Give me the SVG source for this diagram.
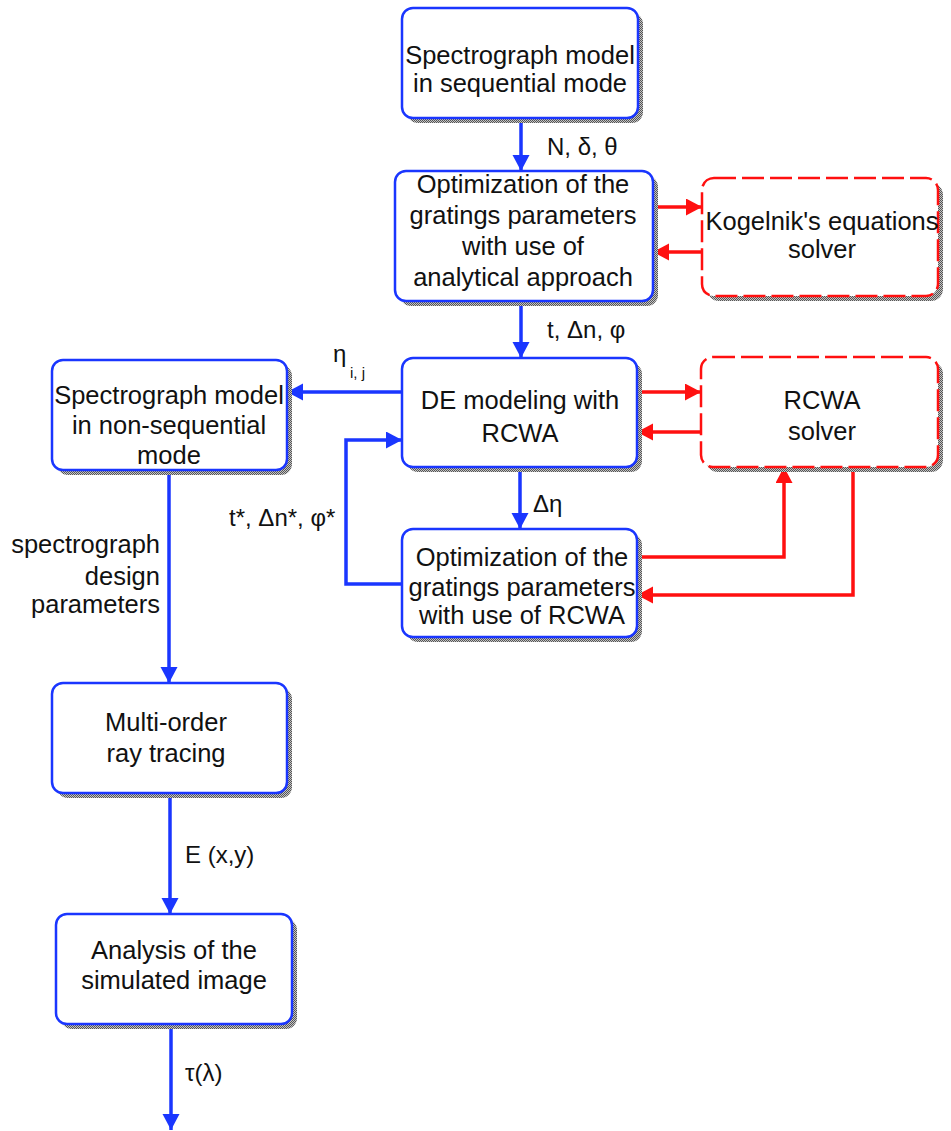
<svg xmlns="http://www.w3.org/2000/svg" width="951" height="1131" viewBox="0 0 951 1131">
<style>
  .box{fill:#fff;stroke:#1a36ff;stroke-width:2.5}
  .rbox{fill:#fff;stroke:#ff1010;stroke-width:2.5;stroke-dasharray:22 6}
  .sh{fill:url(#dots);stroke:none}
  .t{font-family:"Liberation Sans",Arial,sans-serif;font-size:25.5px;fill:#111;text-anchor:middle}
  .lab{font-family:"Liberation Sans",Arial,sans-serif;font-size:24px;fill:#111}
  .sub{font-family:"Liberation Sans",Arial,sans-serif;font-size:15px;fill:#111}
  .cb{fill:none;stroke:#1a36ff;stroke-width:3.5;marker-end:url(#ab)}
  .cr{fill:none;stroke:#ff1010;stroke-width:3.5;marker-end:url(#ar)}
</style>
<defs>
  <pattern id="dots" width="2" height="2" patternUnits="userSpaceOnUse">
    <rect width="2" height="2" fill="#c4c4c4"/>
    <rect width="1" height="1" fill="#555"/>
    <rect x="1" y="1" width="1" height="1" fill="#555"/>
  </pattern>
  <marker id="ab" markerUnits="userSpaceOnUse" markerWidth="18" markerHeight="18" refX="16" refY="8.5" orient="auto">
    <path d="M0,0 L16,8.5 L0,17 z" fill="#1a36ff"/>
  </marker>
  <marker id="ar" markerUnits="userSpaceOnUse" markerWidth="18" markerHeight="18" refX="16" refY="8.5" orient="auto">
    <path d="M0,0 L16,8.5 L0,17 z" fill="#ff1010"/>
  </marker>
</defs>
<rect width="951" height="1131" fill="#fff"/>

<g id="connectors">
  <line class="cb" x1="521" y1="118" x2="521" y2="171"/>
  <line class="cb" x1="521" y1="301" x2="521" y2="358"/>
  <line class="cb" x1="520" y1="467" x2="520" y2="529"/>
  <line class="cb" x1="402" y1="392" x2="287" y2="392"/>
  <path class="cb" d="M402,584 H346 V440 H402"/>
  <line class="cb" x1="169" y1="470" x2="169" y2="683"/>
  <line class="cb" x1="170" y1="793" x2="170" y2="914"/>
  <line class="cb" x1="171" y1="1024" x2="171" y2="1130"/>
  <line class="cr" x1="653" y1="207" x2="702" y2="207"/>
  <line class="cr" x1="702" y1="252" x2="653" y2="252"/>
  <line class="cr" x1="637" y1="392" x2="701" y2="392"/>
  <line class="cr" x1="701" y1="432" x2="637" y2="432"/>
  <path class="cr" d="M637,557 H784 V467"/>
  <path class="cr" d="M853,467 V595 H637"/>
</g>

<g id="labels">
  <text class="lab" x="547" y="155">N, δ, θ</text>
  <text class="lab" x="547" y="338">t, Δn, φ</text>
  <text class="lab" x="533" y="512">Δη</text>
  <text class="lab" x="333" y="362">η</text>
  <text class="sub" x="350" y="378">i, j</text>
  <text class="lab" x="229" y="526">t*, Δn*, φ*</text>
  <text class="t" x="160" y="553" style="text-anchor:end">spectrograph</text>
  <text class="t" x="160" y="585" style="text-anchor:end">design</text>
  <text class="t" x="160" y="613" style="text-anchor:end">parameters</text>
  <text class="lab" x="185" y="863">E (x,y)</text>
  <text class="lab" x="185" y="1081">τ(λ)</text>
</g>

<g id="n1">
  <rect class="sh" x="407" y="13" width="236" height="110" rx="11"/>
  <rect class="box" x="402" y="8" width="236" height="110" rx="11"/>
  <text class="t" x="520" y="64">Spectrograph model</text>
  <text class="t" x="520" y="92">in sequential mode</text>
</g>

<g id="n2">
  <rect class="sh" x="400" y="176" width="258" height="130" rx="11"/>
  <rect class="box" x="395" y="171" width="258" height="130" rx="11"/>
  <text class="t" x="523" y="193">Optimization of the</text>
  <text class="t" x="523" y="224">gratings parameters</text>
  <text class="t" x="523" y="255">with use of</text>
  <text class="t" x="523" y="286">analytical approach</text>
</g>

<g id="kogelnik">
  <rect class="sh" x="707" y="183" width="236" height="118" rx="12"/>
  <rect class="rbox" x="702" y="178" width="236" height="118" rx="12"/>
  <text class="t" x="822" y="230">Kogelnik's equations</text>
  <text class="t" x="822" y="258">solver</text>
</g>

<g id="n3">
  <rect class="sh" x="407" y="363" width="235" height="109" rx="11"/>
  <rect class="box" x="402" y="358" width="235" height="109" rx="11"/>
  <text class="t" x="520" y="409">DE modeling with</text>
  <text class="t" x="520" y="442">RCWA</text>
</g>

<g id="rcwa">
  <rect class="sh" x="706" y="362" width="237" height="110" rx="12"/>
  <rect class="rbox" x="701" y="357" width="237" height="110" rx="12"/>
  <text class="t" x="822" y="409">RCWA</text>
  <text class="t" x="822" y="440">solver</text>
</g>

<g id="n4">
  <rect class="sh" x="407" y="534" width="235" height="108" rx="11"/>
  <rect class="box" x="402" y="529" width="235" height="108" rx="11"/>
  <text class="t" x="522" y="566">Optimization of the</text>
  <text class="t" x="522" y="596">gratings parameters</text>
  <text class="t" x="522" y="624">with use of RCWA</text>
</g>

<g id="nonseq">
  <rect class="sh" x="57" y="365" width="235" height="110" rx="11"/>
  <rect class="box" x="52" y="360" width="235" height="110" rx="11"/>
  <text class="t" x="169" y="404">Spectrograph model</text>
  <text class="t" x="169" y="434">in non-sequential</text>
  <text class="t" x="169" y="464">mode</text>
</g>

<g id="multiorder">
  <rect class="sh" x="57" y="688" width="235" height="110" rx="11"/>
  <rect class="box" x="52" y="683" width="235" height="110" rx="11"/>
  <text class="t" x="166" y="731">Multi-order</text>
  <text class="t" x="166" y="762">ray tracing</text>
</g>

<g id="analysis">
  <rect class="sh" x="61" y="919" width="236" height="110" rx="11"/>
  <rect class="box" x="56" y="914" width="236" height="110" rx="11"/>
  <text class="t" x="174" y="959">Analysis of the</text>
  <text class="t" x="174" y="989">simulated image</text>
</g>
</svg>
